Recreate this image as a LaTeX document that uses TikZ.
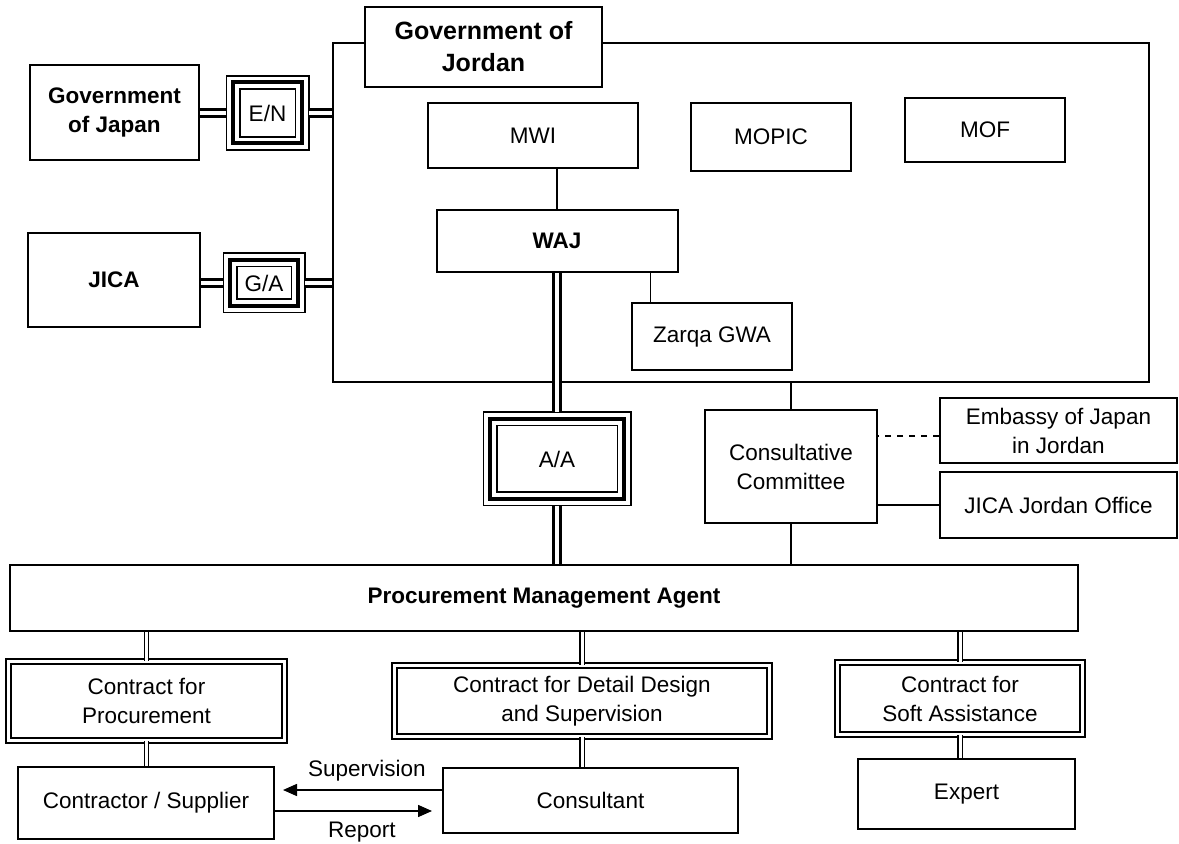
\documentclass[tikz,border=0pt]{standalone}
\usepackage{fontspec}
\setmainfont{Liberation Sans}
\usetikzlibrary{arrows.meta}

\begin{document}
\begin{tikzpicture}[x=0.5pt,y=-0.5pt,
    every node/.style={font=\fontsize{11.25}{14.5}\selectfont,align=center,inner sep=0pt},
    org node/.style={rectangle,draw,line width=1pt,fill=white},
    thin node/.style={rectangle,draw,line width=0.7pt,fill=white},
    party node/.style={rectangle,draw,line width=1.3pt,fill=white,font=\bfseries\fontsize{11.25}{14.5}\selectfont},
    agreement node/.style={rectangle,outer sep=3.5pt,
        preaction={draw,line width=7.5pt},
        preaction={draw=white,line width=5.8pt},
        draw,line width=2pt},
    contract node/.style={rectangle,draw,double,line width=0.7pt,double distance=1.8pt},
    treaty link/.style={draw,double,line width=1.5pt,double distance=1.8pt},
    contract link/.style={draw,double,line width=0.7pt,double distance=1.5pt},
    link/.style={draw,line width=0.7pt},
    flow/.style={draw,line width=0.8pt,-{Triangle[length=7pt,width=6pt]}}]
                \useasboundingbox (0,0) rectangle (1179,844);

                % Government of Jordan frame
                \node[party node,fill=none,minimum width=408pt,minimum height=169.5pt] at (741, 212.5) (gov) {};
                \node[party node,font=\bfseries\fontsize{12.5}{16}\selectfont,minimum width=118.5pt,minimum height=40pt] at (483.5, 47) (govtitle) {Government of\\Jordan};
                \node[thin node,minimum width=105pt,minimum height=32.5pt] at (533, 135.5) (mwi) {MWI};
                \node[thin node,minimum width=80pt,minimum height=34pt] at (771, 137) (mopic) {MOPIC};
                \node[thin node,minimum width=80pt,minimum height=32pt] at (985, 130) (mof) {MOF};
                \node[org node,font=\bfseries\fontsize{11.25}{14.5}\selectfont,minimum width=120.5pt,minimum height=31pt] at (557, 241) (waj) {WAJ};
                \node[thin node,minimum width=80pt,minimum height=33.5pt] at (712, 336.5) (zarqa) {Zarqa GWA};

                % Japanese side and agreements
                \node[party node,minimum width=84.5pt,minimum height=47.5pt] at (114.5, 112.5) (gjapan) {Government\\of Japan};
                \node[party node,minimum width=86pt,minimum height=47pt] at (114, 280) (jica) {JICA};
                \node[agreement node,minimum width=34.5pt,minimum height=30.5pt] at (267.5, 113) (en) {E/N};
                \node[agreement node,minimum width=34pt,minimum height=23pt] at (264, 283) (ga) {G/A};
                \node[agreement node,minimum width=67pt,minimum height=40pt] at (557, 459) (aa) {A/A};

                % committee
                \node[thin node,minimum width=86pt,minimum height=56.5pt] at (791, 466.5) (cc) {Consultative\\Committee};
                \node[org node,minimum width=118.5pt,minimum height=32.5pt] at (1058.5, 430.5) (embassy) {Embassy of Japan\\in Jordan};
                \node[org node,minimum width=118.5pt,minimum height=33pt] at (1058.5, 505) (jicajo) {JICA Jordan Office};

                % agent and contracts
                \node[org node,font=\bfseries\fontsize{11.25}{14.5}\selectfont,minimum width=534pt,minimum height=33pt] at (544, 598) (pma) {Procurement Management Agent};
                \node[contract node,minimum width=138pt,minimum height=39.5pt] at (146.5, 701) (cfp) {Contract for\\Procurement};
                \node[contract node,minimum width=187.5pt,minimum height=35.5pt] at (582, 701) (cdds) {Contract for Detail Design\\and Supervision};
                \node[contract node,minimum width=122.5pt,minimum height=36pt] at (960, 698.5) (cfsa) {Contract for\\Soft Assistance};
                \node[org node,minimum width=128pt,minimum height=36pt] at (146, 803) (contractor) {Contractor / Supplier};
                \node[org node,minimum width=147.5pt,minimum height=32.5pt] at (590.5, 800.5) (consultant) {Consultant};
                \node[org node,minimum width=108.5pt,minimum height=35pt] at (966.5, 794) (expert) {Expert};

                \path[every edge/.style={treaty link}]
                    (en.west) edge (en.west -| gjapan.east)
                    (en.east) edge (en.east -| gov.west)
                    (ga.west) edge (ga.west -| jica.east)
                    (ga.east) edge (ga.east -| gov.west)
                    (waj.south) edge (aa.north)
                    (aa.south) edge (aa.south |- pma.north)
                    ;
                \path[every edge/.style={link}]
                    (waj.north) edge (waj.north |- mwi.south)
                    ([xshift=9.5pt]zarqa.north west) edge ([xshift=9.5pt]zarqa.north west |- waj.south)
                    (cc.north) edge (cc.north |- gov.south)
                    (cc.south) edge (cc.south |- pma.north)
                    (jicajo.west) edge (jicajo.west -| cc.east)
                    ([yshift=-2.75pt]embassy.west) edge[dashed] ([yshift=-2.75pt]embassy.west -| cc.east)
                    ;
                \path[every edge/.style={contract link}]
                    (cfp.north) edge (cfp.north |- pma.south)
                    (cfp.south) edge (cfp.south |- contractor.north)
                    (cdds.north) edge (cdds.north |- pma.south)
                    (cdds.south) edge (cdds.south |- consultant.north)
                    (cfsa.north) edge (cfsa.north |- pma.south)
                    (cfsa.south) edge (cfsa.south |- expert.north)
                    ;
                \path[every edge/.style={flow}]
                    ([yshift=5.25pt]consultant.west) edge[shorten >=4pt] node[pos=0.45,above=4pt] {Supervision} ([yshift=5.25pt]consultant.west -| contractor.east)
                    ([yshift=-5.25pt]consultant.west -| contractor.east) edge[shorten >=5pt] node[pos=0.52,below=5pt] {Report} ([yshift=-5.25pt]consultant.west)
                    ;
            \end{tikzpicture}
\end{document}
